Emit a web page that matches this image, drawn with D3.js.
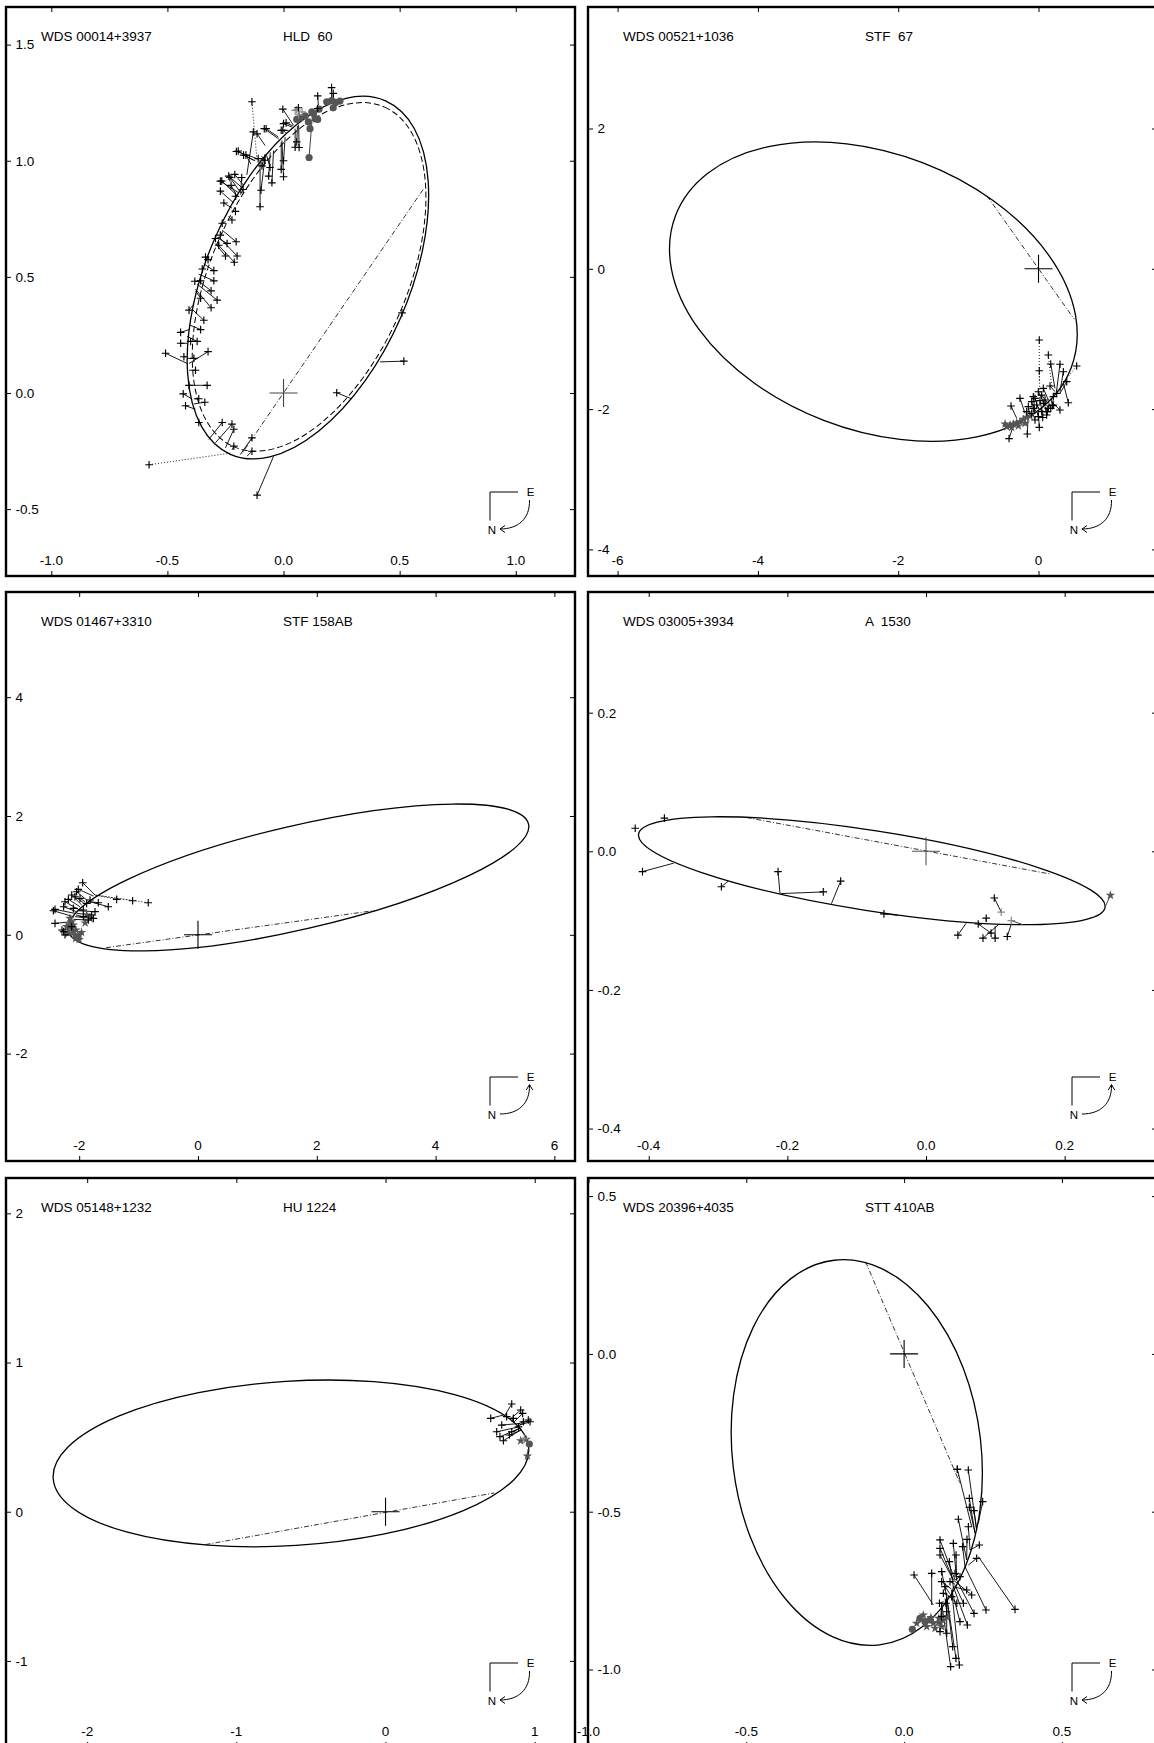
<!DOCTYPE html>
<html><head><meta charset="utf-8">
<script src="https://cdn.jsdelivr.net/npm/d3@7"></script>
<style>
html,body{margin:0;padding:0;background:#fff;}
svg{display:block;}
text{font-family:"Liberation Sans",Arial,Helvetica,sans-serif;white-space:pre;fill:#000;}
</style></head><body>
<svg id="c" width="1154" height="1743"></svg>
<script>
// ---------------- Panel 1: WDS 00014+3937  HLD 60 ----------------
const p1Names = ["WDS 00014+3937", "HLD  60"];
const p1XDomain = [-1.195, 1.255], p1YDomain = [-0.788, 1.662];
const p1XTicks = [-1.0, -0.5, 0.0, 0.5, 1.0], p1YTicks = [-0.5, 0.0, 0.5, 1.0, 1.5];
const p1Orbit = [0.105, 0.497, 0.831, 0.435, 66.3];      // cx, cy, a, b, angle
const p1OldOrbit = [0.11, 0.50, 0.80, 0.42, 66.0];
const p1Nodes = [[0.601, 0.876], [-0.18, -0.262]];
const p1Obs = [
 [0.207,1.315,0.207,1.269],[0.214,1.290,0.214,1.262],[0.147,1.279,0.150,1.240],[0.147,1.225,0.143,1.228],
 [-0.003,1.222,0.043,1.152],[0.064,1.228,0.071,1.174],[0.000,1.160,0.036,1.145],[-0.010,1.131,0.021,1.131],
 [-0.083,1.138,-0.021,1.094],[-0.075,1.138,-0.022,1.102],[-0.114,1.116,-0.079,1.065],[-0.203,1.040,-0.107,1.007],
 [-0.172,1.024,-0.122,1.000],[-0.130,1.124,-0.158,0.939],[-0.195,1.042,-0.130,1.002],[-0.162,1.024,-0.140,0.985],
 [-0.101,0.802,-0.101,1.004],[-0.097,0.873,-0.079,1.022],[-0.064,0.934,-0.057,1.036],[-0.050,0.905,-0.043,1.044],
 [-0.093,0.978,-0.079,1.029],[-0.010,0.963,-0.010,1.080],[0.000,0.931,-0.007,1.087],[0.000,1.000,0.007,1.102],
 [0.050,1.058,0.050,1.138],[0.011,1.163,0.040,1.150],[-0.003,1.131,0.010,1.120],[0.057,1.081,0.060,1.150],
 [0.067,1.057,0.065,1.155],[-0.109,1.009,-0.110,1.010],[-0.080,1.002,-0.095,1.020],[-0.058,0.971,-0.075,1.030],
 [-0.266,0.913,-0.200,0.850],[-0.231,0.928,-0.190,0.870],[-0.180,0.928,-0.185,0.860],
 [-0.272,0.912,-0.193,0.862],[-0.236,0.934,-0.179,0.884],[-0.210,0.941,-0.172,0.894],[-0.272,0.869,-0.214,0.818],
 [-0.226,0.894,-0.200,0.847],[-0.174,0.876,-0.186,0.854],[-0.257,0.818,-0.222,0.796],[-0.207,0.847,-0.205,0.833],
 [-0.207,0.782,-0.222,0.782],[-0.222,0.745,-0.236,0.760],[-0.264,0.731,-0.250,0.738],[-0.272,0.680,-0.264,0.687],
 [-0.293,0.665,-0.272,0.672],[-0.279,0.636,-0.279,0.651],[-0.243,0.644,-0.279,0.665],[-0.204,0.651,-0.264,0.701],
 [-0.200,0.590,-0.279,0.672],[-0.250,0.590,-0.293,0.643],[-0.212,0.563,-0.286,0.643],[-0.336,0.585,-0.322,0.585],
 [-0.325,0.574,-0.322,0.580],[-0.350,0.534,-0.343,0.541],[-0.300,0.527,-0.343,0.556],[-0.357,0.483,-0.357,0.490],
 [-0.382,0.481,-0.365,0.483],[-0.300,0.483,-0.365,0.512],[-0.312,0.440,-0.367,0.483],[-0.286,0.400,-0.372,0.469],
 [-0.312,0.367,-0.379,0.447],[-0.357,0.408,-0.379,0.440],[-0.407,0.357,-0.386,0.382],[-0.343,0.313,-0.393,0.360],
 [-0.443,0.261,-0.407,0.273],[-0.357,0.273,-0.407,0.294],[-0.443,0.214,-0.415,0.214],[-0.372,0.222,-0.415,0.244],
 [-0.400,0.222,-0.415,0.222],[-0.508,0.171,-0.415,0.127],[-0.429,0.156,-0.419,0.156],[-0.325,0.178,-0.407,0.127],
 [-0.386,0.149,-0.415,0.149],[-0.379,0.098,-0.407,0.098],[-0.407,0.033,-0.400,0.033],[-0.329,0.033,-0.405,0.033],
 [-0.432,-0.004,-0.393,-0.026],[-0.365,-0.025,-0.386,-0.025],[-0.339,-0.040,-0.386,-0.047],[-0.422,-0.055,-0.379,-0.070],
 [-0.365,-0.127,-0.357,-0.130],[-0.264,-0.127,-0.322,-0.200],[-0.222,-0.134,-0.293,-0.214],[-0.214,-0.156,-0.250,-0.236],
 [-0.214,-0.229,-0.222,-0.245],[-0.136,-0.193,-0.186,-0.265],[-0.136,-0.251,-0.157,-0.272],[-0.114,-0.440,-0.043,-0.273],
 [0.229,0.001,0.293,-0.025],[0.518,0.137,0.415,0.134],[0.510,0.345,0.510,0.345]
];
const p1ObsDotted = [[-0.136,1.254,-0.114,0.997],[-0.579,-0.309,-0.222,-0.258]];
const p1Circles = [[0.186,1.254],[0.207,1.259],[0.224,1.251],[0.243,1.257],[0.214,1.228],[0.153,1.222],[0.129,1.203],
 [0.136,1.181],[0.147,1.178],[0.107,1.167],[0.114,1.138],[0.057,1.178],[0.071,1.184],[0.093,1.193],[0.122,1.210],[0.110,1.014]];
const p1GrayLines = [[0.110,1.014,0.122,1.167],[0.114,1.138,0.110,1.165]];
const p1Stars = [];
const p1GrayPlus = [[0.050,1.217],[0.064,1.198],[0.080,1.210],[0.057,1.219]];

// ---------------- Panel 2: WDS 00521+1036  STF 67 ----------------
const p2Names = ["WDS 00521+1036", "STF  67"];
const p2XDomain = [-6.422, 1.689], p2YDomain = [-4.379, 3.732];
const p2XTicks = [-6, -4, -2, 0], p2YTicks = [-4, -2, 0, 2];
const p2Orbit = [-2.354, -0.325, 3.021, 1.967, -21.1];
const p2OldOrbit = null;
const p2Nodes = [[-0.735, 1.04], [0.51, -0.72]];
const p2Obs = [
 [0.174,-1.357,0.235,-1.704],[0.306,-1.361,0.259,-1.728],[0.354,-1.467,0.306,-1.752],[0.402,-1.609,0.306,-1.776],
 [0.425,-1.909,0.354,-1.633],[0.306,-2.013,0.211,-1.918],[-0.264,-1.846,-0.192,-2.060],[-0.392,-1.956,-0.311,-2.131],
 [-0.160,-2.355,-0.150,-2.146],[0.011,-2.260,-0.003,-2.036],[0.174,-1.989,0.140,-1.894],[0.068,-1.704,0.140,-1.870],
 [-0.097,-1.894,-0.050,-2.060],[-0.026,-1.941,0.021,-2.013],[0.093,-1.870,0.093,-1.956],[0.045,-2.036,0.030,-2.000],
 [-0.097,-2.060,-0.074,-2.070],[0.116,-2.084,0.093,-1.965],[0.211,-1.823,0.188,-1.846],[0.164,-1.671,0.235,-1.752],
 [0.259,-1.776,0.259,-1.776],[-0.074,-1.823,-0.050,-2.036],[0.021,-1.880,0.045,-1.995],[0.140,-1.989,0.116,-1.941],
 [-0.050,-2.155,-0.074,-2.084],[-0.003,-1.752,0.093,-1.941],[-0.145,-1.965,-0.121,-2.108],
 [-0.420,-2.420,-0.350,-2.210],[0.060,-2.120,0.060,-2.010],[0.200,-1.950,0.180,-1.880],
 [-0.074,-1.989,-0.030,-2.030],[0.069,-1.918,0.090,-1.950],[-0.003,-2.108,-0.020,-2.040],[-0.169,-2.036,-0.160,-2.100],
 [0.126,-2.036,0.100,-1.970],[-0.050,-1.846,0.000,-2.000],[0.045,-1.800,0.120,-1.900],[0.211,-1.941,0.180,-1.850]
];
const p2ObsDotted = [[0.011,-1.015,0.011,-1.585],[0.140,-1.229,0.188,-1.681],[0.011,-1.453,0.021,-1.823],[0.544,-1.386,0.306,-1.681]];
const p2Circles = [];
const p2GrayLines = [];
const p2Stars = [[-0.453,-2.251],[-0.406,-2.227],[-0.359,-2.213],[-0.311,-2.194],[-0.264,-2.180],[-0.216,-2.146],
 [-0.169,-2.118],[-0.382,-2.260],[-0.287,-2.240],[-0.192,-2.203],[-0.477,-2.213],[-0.121,-2.098]];
const p2GrayPlus = [];

// ---------------- Panel 3: WDS 01467+3310  STF 158AB ----------------
const p3Names = ["WDS 01467+3310", "STF 158AB"];
const p3XDomain = [-3.232, 6.347], p3YDomain = [-3.808, 5.771];
const p3XTicks = [-2, 0, 2, 4, 6], p3YTicks = [-2, 0, 2, 4];
const p3Orbit = [1.691, 0.965, 3.977, 0.872, 13.07];
const p3OldOrbit = null;
const p3Nodes = [[-1.547, -0.217], [2.976, 0.409]];
const p3Obs = [
 [-1.941,0.877,-1.734,0.670],[-2.015,0.766,-1.762,0.653],[-1.510,0.473,-1.818,0.557],[-1.678,0.540,-1.818,0.557],
 [-1.818,0.586,-1.846,0.540],[-2.126,0.670,-1.958,0.502],[-2.182,0.597,-1.986,0.473],[-2.239,0.557,-2.015,0.428],
 [-2.071,0.640,-1.930,0.540],[-1.986,0.614,-1.902,0.557],[-1.874,0.529,-1.874,0.557],[-2.098,0.445,-2.020,0.445],
 [-2.262,0.473,-2.043,0.389],[-2.407,0.428,-2.071,0.361],[-2.435,0.405,-2.098,0.305],[-1.790,0.333,-2.043,0.361],
 [-1.762,0.277,-2.071,0.305],[-1.846,0.249,-2.098,0.260],[-1.930,0.305,-2.054,0.333],[-2.407,0.193,-2.126,0.221],
 [-2.262,0.053,-2.110,0.081],[-2.290,0.081,-2.120,0.110],[-2.239,0.000,-2.071,0.000],[-2.126,0.137,-2.120,0.137],
 [-1.734,0.389,-2.015,0.405],[-1.930,0.417,-2.015,0.417],[-2.043,0.725,-1.874,0.586]
];
const p3ObsDotted = [[-1.369,0.597,-1.734,0.670],[-1.100,0.574,-1.734,0.670],[-0.837,0.540,-1.734,0.670]];
const p3Circles = [];
const p3GrayLines = [];
const p3Stars = [[-2.155,0.277],[-2.126,0.221],[-2.166,0.165],[-2.126,0.109],[-2.098,0.053],[-2.071,-0.004],
 [-2.031,-0.043],[-2.210,0.137],[-2.182,0.025],[-1.997,-0.004],[-2.098,0.165],[-2.054,0.081],[-1.874,0.333],[-1.818,0.277],
 [-2.000,-0.080],[-2.060,-0.060],[-1.960,0.040],[-1.900,0.200]];
const p3GrayPlus = [];

// ---------------- Panel 4: WDS 03005+3934  A 1530 ----------------
const p4Names = ["WDS 03005+3934", "A  1530"];
const p4XDomain = [-0.4876, 0.3332], p4YDomain = [-0.4468, 0.3741];
const p4XTicks = [-0.4, -0.2, 0.0, 0.2], p4YTicks = [-0.4, -0.2, 0.0, 0.2];
const p4Orbit = [-0.0782, -0.028, 0.3406, 0.0579, -8.92];
const p4OldOrbit = null;
const p4Nodes = [[-0.259, 0.0488], [0.178, -0.0326]];
const p4Obs = [
 [-0.4195,0.0332,-0.4195,0.0332],[-0.3774,0.0478,-0.3774,0.0478],[-0.409,-0.0293,-0.364,-0.0171],
 [-0.2952,-0.0512,-0.2853,-0.043],[-0.2135,-0.0293,-0.2106,-0.061],[-0.1482,-0.0586,-0.2094,-0.061],
 [-0.1231,-0.043,-0.1365,-0.0756],[-0.0607,-0.0902,-0.040,-0.0925],[0.0985,-0.0673,0.1085,-0.0878],
 [0.0868,-0.0965,0.0868,-0.1015],[0.0753,-0.1049,0.080,-0.1049],[0.046,-0.121,0.0577,-0.1039],
 [0.0822,-0.1253,0.1056,-0.1049],[0.0939,-0.118,0.0753,-0.1049],[0.0997,-0.1253,0.0997,-0.108],
 [0.1172,-0.1229,0.1231,-0.1049]
];
const p4ObsDotted = [];
const p4Circles = [];
const p4GrayLines = [[0.266,-0.0634,0.2572,-0.0829],[0.1231,-0.100,0.140,-0.106]];
const p4Stars = [[0.266,-0.0634]];
const p4GrayPlus = [[0.1231,-0.100],[0.1085,-0.0878]];

// ---------------- Panel 5: WDS 05148+1232  HU 1224 ----------------
const p5Names = ["WDS 05148+1232", "HU 1224"];
const p5XDomain = [-2.544, 1.270], p5YDomain = [-1.577, 2.237];
const p5XTicks = [-2, -1, 0, 1], p5YTicks = [-1, 0, 1, 2];
const p5Orbit = [-0.634, 0.324, 1.597, 0.551, 3.59];
const p5OldOrbit = null;
const p5Nodes = [[-1.206, -0.22], [0.729, 0.126]];
const p5Obs = [
 [0.846,0.722,0.801,0.648],[0.705,0.626,0.790,0.648],[0.906,0.682,0.834,0.619],[0.812,0.637,0.817,0.633],
 [0.857,0.626,0.846,0.603],[0.919,0.659,0.857,0.597],[0.957,0.615,0.879,0.570],[0.779,0.581,0.901,0.592],
 [0.745,0.536,0.901,0.570],[0.790,0.476,0.912,0.552],[0.767,0.503,0.901,0.559],[0.846,0.536,0.905,0.559],
 [0.891,0.569,0.897,0.581],[0.924,0.603,0.890,0.588],[0.969,0.603,0.901,0.581],[0.830,0.514,0.912,0.548]
];
const p5ObsDotted = [];
const p5Circles = [[0.964,0.454]];
const p5GrayLines = [[0.951,0.373,0.955,0.420]];
const p5Stars = [[0.906,0.476],[0.942,0.485],[0.951,0.373]];
const p5GrayPlus = [[0.930,0.490]];

// ---------------- Panel 6: WDS 20396+4035  STT 410AB ----------------
const p6Names = ["WDS 20396+4035", "STT 410AB"];
const p6XDomain = [-1.0016, 0.8013], p6YDomain = [-1.2456, 0.5574];
const p6XTicks = [-1.0, -0.5, 0.0, 0.5], p6YTicks = [-1.0, -0.5, 0.0, 0.5];
const p6Orbit = [-0.150, -0.3125, 0.6134, 0.3942, -83.28];
const p6OldOrbit = null;
const p6Nodes = [[-0.122, 0.292], [0.177, -0.41]];
const p6Obs = [
 [0.1686,-0.3657,0.2142,-0.5475],[0.2034,-0.368,0.2299,-0.558],[0.2067,-0.4576,0.2247,-0.5685],[0.2489,-0.4682,0.2352,-0.5368],
 [0.2067,-0.4858,0.2247,-0.5685],[0.2215,-0.4964,0.2299,-0.558],[0.1719,-0.524,0.1983,-0.653],[0.2036,-0.5476,0.2088,-0.6214],
 [0.2383,-0.6055,0.2088,-0.6214],[0.1993,-0.5876,0.1983,-0.653],[0.1137,-0.5895,0.1613,-0.7164],[0.1137,-0.6161,0.156,-0.7164],
 [0.1559,-0.6002,0.1665,-0.7164],[0.1855,-0.6107,0.1929,-0.6742],[0.2299,-0.6477,0.2036,-0.6689],[0.0314,-0.7006,0.0926,-0.7956],
 [0.0874,-0.6953,0.0874,-0.7956],[0.1191,-0.69,0.1349,-0.769],[0.1434,-0.6584,0.156,-0.7375],[0.1645,-0.6372,0.1665,-0.7164],
 [0.1771,-0.7059,0.1613,-0.7164],[0.1983,-0.748,0.156,-0.7375],[0.2141,-0.7639,0.156,-0.7164],[0.2595,-0.8115,0.1929,-0.6742],
 [0.3514,-0.8094,0.2352,-0.6424],[0.2215,-0.8221,0.1665,-0.7164],[0.2004,-0.8591,0.156,-0.7375],[0.1771,-0.8485,0.1507,-0.7481],
 [0.1191,-0.8326,0.119,-0.7902],[0.135,-0.8853,0.1349,-0.769],[0.1137,-0.88,0.119,-0.7902],[0.1539,-0.9277,0.1349,-0.769],
 [0.1751,-0.9858,0.1507,-0.7481],[0.1475,-0.9911,0.119,-0.7902],[0.1644,-0.9647,0.1349,-0.769],[0.1328,-0.79,0.1349,-0.769],
 [0.1507,-0.769,0.156,-0.7375],[0.1296,-0.7376,0.145,-0.760],[0.1243,-0.7586,0.140,-0.765],[0.1613,-0.6953,0.172,-0.700],
 [0.1137,-0.6372,0.156,-0.7164],[0.1454,-0.7217,0.160,-0.728],[0.119,-0.7217,0.150,-0.745],[0.135,-0.817,0.130,-0.775],
 [0.112,-0.790,0.125,-0.785],[0.167,-0.790,0.140,-0.765],[0.188,-0.790,0.160,-0.730]
];
const p6ObsDotted = [[0.1686,-0.3657,0.177,-0.41]];
const p6Circles = [[0.026,-0.8727],[0.0504,-0.8378],[0.0662,-0.8484],[0.082,-0.843]];
const p6GrayLines = [];
const p6Stars = [[0.0926,-0.8537],[0.1084,-0.8516],[0.1243,-0.8452],[0.1349,-0.8326],[0.0715,-0.8643],[0.098,-0.8696],
 [0.1191,-0.8643],[0.0609,-0.8273],[0.0398,-0.8537],[0.085,-0.835],[0.11,-0.838]];
const p6GrayPlus = [];

const tickFormats = [".1f", "d", "d", ".1f", "d", ".1f"];
const compassArrowAt = ["N", "N", "E", "E", "N", "N"];

// table built from the arrays above
const panels = [
 [p1Names,p1XDomain,p1YDomain,p1XTicks,p1YTicks,p1Orbit,p1OldOrbit,p1Nodes,p1Obs,p1ObsDotted,p1Circles,p1GrayLines,p1Stars,p1GrayPlus],
 [p2Names,p2XDomain,p2YDomain,p2XTicks,p2YTicks,p2Orbit,p2OldOrbit,p2Nodes,p2Obs,p2ObsDotted,p2Circles,p2GrayLines,p2Stars,p2GrayPlus],
 [p3Names,p3XDomain,p3YDomain,p3XTicks,p3YTicks,p3Orbit,p3OldOrbit,p3Nodes,p3Obs,p3ObsDotted,p3Circles,p3GrayLines,p3Stars,p3GrayPlus],
 [p4Names,p4XDomain,p4YDomain,p4XTicks,p4YTicks,p4Orbit,p4OldOrbit,p4Nodes,p4Obs,p4ObsDotted,p4Circles,p4GrayLines,p4Stars,p4GrayPlus],
 [p5Names,p5XDomain,p5YDomain,p5XTicks,p5YTicks,p5Orbit,p5OldOrbit,p5Nodes,p5Obs,p5ObsDotted,p5Circles,p5GrayLines,p5Stars,p5GrayPlus],
 [p6Names,p6XDomain,p6YDomain,p6XTicks,p6YTicks,p6Orbit,p6OldOrbit,p6Nodes,p6Obs,p6ObsDotted,p6Circles,p6GrayLines,p6Stars,p6GrayPlus]
].map(r => ({names:r[0],xd:r[1],yd:r[2],xt:r[3],yt:r[4],orbit:r[5],old:r[6],nodes:r[7],obs:r[8],dotted:r[9],circles:r[10],glines:r[11],stars:r[12],gplus:r[13]}));

// ---------------- drawing ----------------
const W = 569, H = 569;
const lefts = [6, 588], tops = [7, 592, 1178];
const svg = d3.select("#c");
const defs = svg.append("defs");
const FS = 13.5;
const locale = d3.formatLocale({decimal: ".", thousands: ",", grouping: [3], currency: ["", ""], minus: "-"});

panels.forEach((p, i) => {
  const left = lefts[i % 2], top = tops[Math.floor(i / 2)];
  const x = d3.scaleLinear().domain(p.xd).range([left, left + W]);
  const y = d3.scaleLinear().domain(p.yd).range([top + H, top]);
  const g = svg.append("g");
  defs.append("clipPath").attr("id", "clip" + i).append("rect")
    .attr("x", left).attr("y", top).attr("width", W).attr("height", H);
  const plot = g.append("g").attr("clip-path", `url(#clip${i})`);

  const ellipse = (o, dash, w) => {
    const cx = x(o[0]), cy = y(o[1]);
    plot.append("ellipse").attr("cx", cx).attr("cy", cy)
      .attr("rx", x(o[2]) - x(0)).attr("ry", y(0) - y(o[3]))
      .attr("transform", `rotate(${-o[4]} ${cx} ${cy})`)
      .attr("fill", "none").attr("stroke", "#000").attr("stroke-width", w)
      .attr("stroke-dasharray", dash);
  };
  if (p.old) ellipse(p.old, "6,3", 1.0);
  ellipse(p.orbit, null, 1.3);

  // line of nodes
  plot.append("line").attr("x1", x(p.nodes[0][0])).attr("y1", y(p.nodes[0][1]))
    .attr("x2", x(p.nodes[1][0])).attr("y2", y(p.nodes[1][1]))
    .attr("stroke", "#000").attr("stroke-width", 0.8).attr("stroke-dasharray", "5,2,1,2");

  // residual lines
  plot.selectAll(null).data(p.obs).join("line")
    .attr("x1", d => x(d[0])).attr("y1", d => y(d[1])).attr("x2", d => x(d[2])).attr("y2", d => y(d[3]))
    .attr("stroke", "#000").attr("stroke-width", 0.9);
  plot.selectAll(null).data(p.dotted).join("line")
    .attr("x1", d => x(d[0])).attr("y1", d => y(d[1])).attr("x2", d => x(d[2])).attr("y2", d => y(d[3]))
    .attr("stroke", "#000").attr("stroke-width", 0.9).attr("stroke-dasharray", "1,2");
  plot.selectAll(null).data(p.glines).join("line")
    .attr("x1", d => x(d[0])).attr("y1", d => y(d[1])).attr("x2", d => x(d[2])).attr("y2", d => y(d[3]))
    .attr("stroke", "#444").attr("stroke-width", 1);

  // gray speckle markers
  plot.selectAll(null).data(p.circles).join("circle")
    .attr("cx", d => x(d[0])).attr("cy", d => y(d[1])).attr("r", 3.6).attr("fill", "#555");
  const star = d3.symbol(d3.symbolStar, 28);
  plot.selectAll(null).data(p.stars).join("path")
    .attr("transform", d => `translate(${x(d[0])},${y(d[1])})`).attr("d", star).attr("fill", "#555");
  const plus = "M-3.8,0H3.8M0,-3.8V3.8";
  plot.selectAll(null).data(p.gplus).join("path")
    .attr("transform", d => `translate(${x(d[0])},${y(d[1])})`).attr("d", plus)
    .attr("stroke", "#888").attr("stroke-width", 1.2).attr("fill", "none");
  // micrometer observations
  plot.selectAll(null).data(p.obs.concat(p.dotted)).join("path")
    .attr("transform", d => `translate(${x(d[0])},${y(d[1])})`).attr("d", plus)
    .attr("stroke", "#000").attr("stroke-width", 1.15).attr("fill", "none");

  // primary at origin
  plot.append("path").attr("transform", `translate(${x(0)},${y(0)})`)
    .attr("d", "M-14,0H14M0,-14V14").attr("stroke", i === 0 ? "#444" : (i === 3 ? "#555" : "#000"))
    .attr("stroke-width", 1.1).attr("fill", "none");

  // ticks (inward on all four sides) via d3 axes
  const xt = p.xt.filter(v => v >= p.xd[0] - 1e-9 && v <= p.xd[1]);
  const yt = p.yt.filter(v => v >= p.yd[0] && v <= p.yd[1]);
  const axStyle = s => { s.select(".domain").remove(); s.selectAll("line").attr("stroke", "#000").attr("stroke-width", 1); };
  g.append("g").attr("transform", `translate(0,${top + H})`)
    .call(d3.axisBottom(x).tickValues(xt).tickSizeInner(-5).tickSizeOuter(0).tickFormat("")).call(axStyle);
  g.append("g").attr("transform", `translate(0,${top})`)
    .call(d3.axisTop(x).tickValues(xt).tickSizeInner(-5).tickSizeOuter(0).tickFormat("")).call(axStyle);
  g.append("g").attr("transform", `translate(${left},0)`)
    .call(d3.axisLeft(y).tickValues(yt).tickSizeInner(-5).tickSizeOuter(0).tickFormat("")).call(axStyle);
  g.append("g").attr("transform", `translate(${left + W},0)`)
    .call(d3.axisRight(y).tickValues(yt).tickSizeInner(-5).tickSizeOuter(0).tickFormat("")).call(axStyle);

  const fmt = locale.format(tickFormats[i]);
  g.selectAll(null).data(xt).join("text")
    .attr("x", d => x(d)).attr("y", top + H - 11).attr("text-anchor", "middle")
    .attr("font-size", FS).text(d => fmt(d));
  g.selectAll(null).data(yt).join("text")
    .attr("x", left + 9.5).attr("y", d => y(d)).attr("dy", "0.36em")
    .attr("font-size", FS).text(d => fmt(d));

  // titles
  g.append("text").attr("x", left + 35).attr("y", top + 34).attr("font-size", FS).text(p.names[0]);
  g.append("text").attr("x", left + 277).attr("y", top + 34).attr("font-size", FS).text(p.names[1]);

  // compass
  const c = g.append("g").attr("stroke", "#000").attr("fill", "none").attr("stroke-width", 1);
  c.append("path").attr("d", `M${left + 512},${top + 485}H${left + 484}V${top + 513.5}`);
  c.append("path").attr("d", `M${left + 523.5},${top + 493}C${left + 524},${top + 512} ${left + 512},${top + 522} ${left + 494},${top + 522}`);
  if (compassArrowAt[i] === "N")
    c.append("path").attr("d", `M${left + 499},${top + 518.5}L${left + 494},${top + 522}L${left + 499},${top + 525.5}`);
  else
    c.append("path").attr("d", `M${left + 520.3},${top + 498}L${left + 523.5},${top + 492.5}L${left + 526.7},${top + 498}`);
  g.append("text").attr("x", left + 524.5).attr("y", top + 488.5).attr("text-anchor", "middle").attr("font-size", 11.5).text("E");
  g.append("text").attr("x", left + 486).attr("y", top + 526.5).attr("text-anchor", "middle").attr("font-size", 11.5).text("N");

  // frame
  g.append("rect").attr("x", left).attr("y", top).attr("width", W).attr("height", H)
    .attr("fill", "none").attr("stroke", "#000").attr("stroke-width", 2.4);
});
</script></body></html>
